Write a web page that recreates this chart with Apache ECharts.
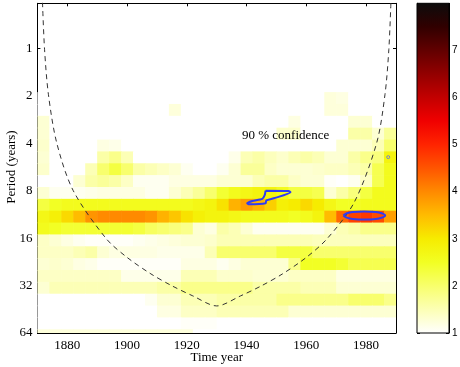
<!DOCTYPE html>
<html><head><meta charset="utf-8">
<script src="https://cdn.jsdelivr.net/npm/echarts@6/dist/echarts.min.js"></script>
<style>html,body{margin:0;padding:0;background:#fff}#c{width:460px;height:367px}</style>
</head><body><div id="c"></div>
<script>
// ---- data ----
// column centres (4-year blocks), years
const colYears = [1872,1876,1880,1884,1888,1892,1896,1900,1904,1908,1912,1916,1920,1924,1928,1932,1936,1940,1944,1948,1952,1956,1960,1964,1968,1972,1976,1980,1984,1988];
// row centres, log2(period in years)
const rowLog2 = [1.047,1.297,1.547,1.797,2.047,2.297,2.547,2.797,3.047,3.297,3.547,3.797,4.047,4.297,4.547,4.797,5.047,5.297,5.547,5.797,6.047];
// wavelet power per row (top to bottom), one value per column
const powerRows = [
 [1,1,1,1,1,1,1,1,1,1,1,1,1,1,1,1,1,1,1,1,1,1,1,1,1.25,1.2,1,1,1,1],
 [1,1,1,1,1,1,1,1,1,1,1,1.25,1,1,1,1,1,1,1,1,1,1,1,1,1.25,1.25,1,1,1,1],
 [1.3,1,1,1,1,1,1,1,1,1,1,1,1,1,1,1,1,1,1,1,1,1.2,1,1,1,1,1.3,1.3,1,1],
 [1.3,1,1,1,1,1,1,1,1,1,1,1,1,1,1,1,1,1,1,1,1.35,1.35,1,1,1,1,1.6,1.6,1.3,1.7],
 [1.35,1,1,1,1,1.2,1.15,1,1,1,1,1,1,1,1,1,1,1,1,1,1,1,1,1,1,1.3,1.3,1.3,1.5,2.0],
 [1.3,1,1,1,1,1.6,1.8,1.5,1,1,1,1,1,1,1,1,1.15,1.5,1.6,1.45,1.35,1.5,1.6,1.5,1.3,1.3,1.6,1.8,1.9,2.8],
 [1.35,1,1,1,1.5,2.0,2.3,2.0,1.6,1.5,1.4,1.3,1.1,1,1,1.1,1.3,1.7,1.7,1.4,1.3,1.3,1.3,1.35,1.4,1.4,1.5,1.6,2.2,2.6],
 [1,1,1,1.3,1.6,1.7,1.6,1.4,1.1,1.1,1.1,1.2,1.2,1.2,1.2,1.3,1.3,1.3,1.5,1.6,1.6,1.4,1.3,1.3,1.05,1,1.1,1.4,2.2,2.6],
 [1.3,1.1,1.1,1.1,1.15,1.2,1.2,1.2,1.2,1.1,1.1,1.3,1.5,1.7,2.0,2.4,2.6,2.7,2.8,2.8,2.6,2.3,2.3,2.2,1.3,1.6,1.9,2.3,2.6,2.6],
 [2.3,2.5,2.6,2.6,2.6,2.6,2.6,2.6,2.6,2.6,2.6,2.6,2.6,2.7,2.8,3.1,3.6,3.8,3.6,3.3,2.9,3.0,3.2,3.0,2.7,2.5,2.5,2.6,2.6,2.6],
 [2.7,2.9,3.2,3.5,3.9,4.0,4.0,4.0,4.0,3.9,3.6,3.4,3.1,2.9,2.8,2.8,2.7,2.6,2.6,2.6,2.6,2.5,2.6,2.8,3.5,4.3,4.7,4.8,4.6,3.8],
 [2.6,2.5,2.4,2.4,2.4,2.4,2.4,2.4,2.3,2.1,2.0,1.9,1.8,1.3,1.2,1.6,1.5,1.3,1.1,1.1,1.1,1.1,1.1,1.1,1.3,1.5,1.6,1.8,1.8,1.8],
 [1.4,1.3,1.2,1.1,1.05,1.05,1.05,1.05,1.1,1.15,1.2,1.25,1.3,1.3,1.35,1.5,1.5,1.5,1.5,1.5,1.5,1.5,1.5,1.45,1.45,1.45,1.45,1.45,1.45,1.45],
 [1.4,1.4,1.4,1.5,1.6,1.3,1.2,1.2,1.2,1.2,1.15,1.15,1.15,1.15,1.5,2.0,2.0,2.0,2.0,2.0,2.3,2.3,2.3,2.0,2.0,2.0,2.0,2.0,2.0,2.0],
 [1.3,1.35,1.3,1.2,1.15,1.05,1.05,1.05,1.05,1.05,1.05,1.05,1.2,1.2,1.2,1.1,1.2,1.3,1.3,1.3,1.3,1.8,2.5,2.5,2.5,2.4,2.2,2.2,2.2,2.2],
 [1.4,1.4,1.4,1.4,1.4,1.4,1.4,1.15,1.15,1.15,1.15,1.15,1.5,1.5,1.5,1.35,1.35,1.35,1.3,1.3,1.3,1.4,1.4,1.4,1.4,1.2,1.2,1.2,1.2,1.2],
 [1.3,1.5,1.5,1.5,1.5,1.5,1.5,1.5,1.5,1.5,1.6,1.6,1.8,1.8,1.8,1.8,1.8,1.8,1.6,1.6,1.6,1.6,1.5,1.5,1.5,1.3,1.3,1.3,1.3,1.3],
 [1,1,1,1,1,1,1,1,1,1.1,1.3,1.3,1.5,1.5,1.5,1.6,1.6,1.6,1.6,1.6,1.8,1.8,1.8,1.8,1.8,1.8,2.0,2.0,2.0,1.8],
 [1,1,1,1,1,1,1,1,1,1,1.2,1.2,1.4,1.4,1.4,1.5,1.5,1.5,1.5,1.5,1.5,1.3,1.3,1.3,1.3,1.3,1.3,1.3,1.3,1.3],
 [1,1,1,1,1,1,1,1,1,1,1,1,1.05,1.05,1.05,1,1,1,1,1,1,1,1,1,1,1,1,1,1,1],
 [1.25,1.25,1.25,1.25,1.25,1.25,1.25,1.25,1.25,1.25,1.25,1.25,1.25,1,1,1,1,1,1,1,1,1,1,1,1,1,1,1,1,1]
];
// cone of influence
const coiYears   = [1871.7,1872.4,1873.7,1876.5,1882.0,1893.0,1900.0,1908.0,1915.0,1922.0,1930.0,1938.0,1945.0,1952.0,1960.0,1967.0,1976.0,1983.5,1986.3,1987.6,1988.3];
const coiPeriods = [0.51,1.02,1.97,4.0,8.0,16.1,21.2,27.0,32.1,37.2,43.1,37.2,32.1,27.0,21.2,16.1,9.5,4.0,1.97,1.02,0.51];
// 90% confidence contours
const contourAYears   = [1946.35,1954.1,1954.7,1949.1,1946.6,1946.35,1940.8,1940.2,1941.9,1945.25,1946.1,1946.35];
const contourAPeriods = [8.0,8.04,8.19,8.94,9.23,9.62,9.76,9.62,9.30,9.03,8.51,8.0];
const contourBYears   = [1972.4,1973.4,1975.5,1979.4,1983.3,1985.4,1986.4,1985.4,1983.3,1979.4,1975.5,1973.4,1972.4];
const contourBPeriods = [11.5,11.16,10.92,10.85,10.92,11.16,11.5,11.84,12.1,12.19,12.1,11.84,11.5];
const contourCYears = [1987.4];
const contourCPeriods = [4.9];
// axis ticks
const xTicks = [1880,1900,1920,1940,1960,1980];
const yTickLog2 = [0,1,2,3,4,5,6];
const cbTicks = [1,2,3,4,5,6,7];
const powerColors = ['#ffffff','#fcffb6','#f8ff6d','#f2ff24','#f6ec00','#ffbc00','#ff8a00','#ff5500','#ff2400','#f00000','#c20000','#920000','#610000','#300000','#0c0c0c'];

const colWidth = 4, rowHeight = 0.25;
const cells = [];
powerRows.forEach((row, r) => row.forEach((v, c) => cells.push([colYears[c], rowLog2[r], v])));

const chart = echarts.init(document.getElementById('c'), null, {renderer: 'canvas'});
const serif = 'Liberation Serif';
const lbl = {color: '#000', fontFamily: serif, fontSize: 13};

function renderCell(params, api) {
  const x = api.value(0), y = api.value(1);
  const a = api.coord([x - colWidth / 2, y - rowHeight / 2]);
  const b = api.coord([x + colWidth / 2, y + rowHeight / 2]);
  const cs = params.coordSys;
  const rect = echarts.graphic.clipRectByRect(
    {x: Math.min(a[0], b[0]), y: Math.min(a[1], b[1]), width: Math.abs(b[0] - a[0]) + 0.6, height: Math.abs(b[1] - a[1]) + 0.6},
    {x: cs.x, y: cs.y, width: cs.width, height: cs.height});
  if (!rect) return;
  return {type: 'rect', shape: rect, style: {fill: api.visual('color')}};
}
function renderBar(params, api) {
  const a = api.coord([0, api.value(2)]);
  const b = api.coord([1, api.value(1)]);
  const stops = powerColors.map((c, i) => ({offset: i / (powerColors.length - 1), color: c}));
  return {type: 'rect', shape: {x: a[0], y: a[1], width: b[0] - a[0], height: b[1] - a[1]},
    style: {fill: new echarts.graphic.LinearGradient(0, 1, 0, 0, stops), stroke: '#000', lineWidth: 1}};
}
const tickIn = {show: true, inside: true, length: 3, lineStyle: {color: '#000'}};
const lineBlack = {show: true, onZero: false, lineStyle: {color: '#000', width: 1}};

chart.setOption({
  animation: false,
  backgroundColor: '#fff',
  grid: [
    {left: 37.4, right: 64, top: 3.3, bottom: 34, containLabel: false, outerBoundsMode: 'none'},
    {left: 417, right: 11, top: 3.3, bottom: 34, containLabel: false, outerBoundsMode: 'none'}
  ],
  xAxis: [
    {type: 'value', gridIndex: 0, min: 1870, max: 1990, position: 'bottom',
     axisLine: lineBlack, axisTick: Object.assign({customValues: xTicks}, tickIn),
     axisLabel: Object.assign({customValues: xTicks, margin: 6, formatter: v => String(v)}, lbl), splitLine: {show: false}},
    {type: 'value', gridIndex: 0, min: 1870, max: 1990, position: 'top',
     axisLine: lineBlack, axisTick: Object.assign({customValues: xTicks}, tickIn),
     axisLabel: {show: false}, splitLine: {show: false}},
    {type: 'value', gridIndex: 1, min: 0, max: 1, show: false}
  ],
  yAxis: [
    {type: 'value', gridIndex: 0, min: -0.95, max: 6, inverse: true, position: 'left',
     axisLine: lineBlack, axisTick: Object.assign({customValues: yTickLog2}, tickIn),
     axisLabel: Object.assign({customValues: yTickLog2, margin: 5, formatter: v => String(Math.round(Math.pow(2, v)))}, lbl),
     splitLine: {show: false}},
    {type: 'value', gridIndex: 0, min: -0.95, max: 6, inverse: true, position: 'right',
     axisLine: lineBlack, axisTick: Object.assign({customValues: yTickLog2}, tickIn),
     axisLabel: {show: false}, splitLine: {show: false}},
    {type: 'value', gridIndex: 1, min: 1, max: 8, position: 'right',
     axisLine: lineBlack, axisTick: Object.assign({customValues: cbTicks}, tickIn),
     axisLabel: {customValues: cbTicks, margin: 3, color: '#000', fontFamily: 'Liberation Sans', fontSize: 10},
     splitLine: {show: false}},
    {type: 'value', gridIndex: 1, min: 1, max: 8, position: 'left',
     axisLine: lineBlack, axisTick: Object.assign({customValues: cbTicks}, tickIn),
     axisLabel: {show: false}, splitLine: {show: false}}
  ],
  visualMap: {type: 'continuous', show: false, min: 1, max: 8, dimension: 2, seriesIndex: 0,
    inRange: {color: powerColors}},
  series: [
    {type: 'custom', xAxisIndex: 0, yAxisIndex: 0, renderItem: renderCell, data: cells, z: 1},
    {type: 'line', xAxisIndex: 0, yAxisIndex: 0, data: coiYears.map((y, i) => [y, Math.log2(coiPeriods[i])]),
     symbol: 'none', smooth: 0.3, clip: true, lineStyle: {color: '#333', width: 1, type: [5, 4]}, z: 3},
    {type: 'line', xAxisIndex: 0, yAxisIndex: 0, data: contourAYears.map((y, i) => [y, Math.log2(contourAPeriods[i])]),
     symbol: 'none', smooth: 0.2, lineStyle: {color: '#2f3cf2', width: 2}, z: 4},
    {type: 'line', xAxisIndex: 0, yAxisIndex: 0, data: contourBYears.map((y, i) => [y, Math.log2(contourBPeriods[i])]),
     symbol: 'none', smooth: 0.5, lineStyle: {color: '#2f3cf2', width: 2}, z: 4},
    {type: 'scatter', xAxisIndex: 0, yAxisIndex: 0, data: contourCYears.map((y, i) => [y, Math.log2(contourCPeriods[i])]),
     symbol: 'circle', symbolSize: 3, itemStyle: {color: 'none', borderColor: '#5a6cf2', borderWidth: 1}, z: 4},
    {type: 'custom', xAxisIndex: 2, yAxisIndex: 2, renderItem: renderBar, data: [[0, 1, 8]], z: 1}
  ],
  graphic: [
    {type: 'text', left: 242, top: 129, z: 10,
     style: {text: '90 % confidence', fill: '#000', font: '13px "Liberation Serif"'}},
    {type: 'text', x: 11.5, y: 167, rotation: Math.PI / 2, z: 10,
     style: {text: 'Period (years)', fill: '#000', font: '13px "Liberation Serif"', align: 'center', verticalAlign: 'middle'}},
    {type: 'text', x: 216.7, y: 358, z: 10,
     style: {text: 'Time year', fill: '#000', font: '13px "Liberation Serif"', align: 'center', verticalAlign: 'middle'}}
  ]
});
</script></body></html>
